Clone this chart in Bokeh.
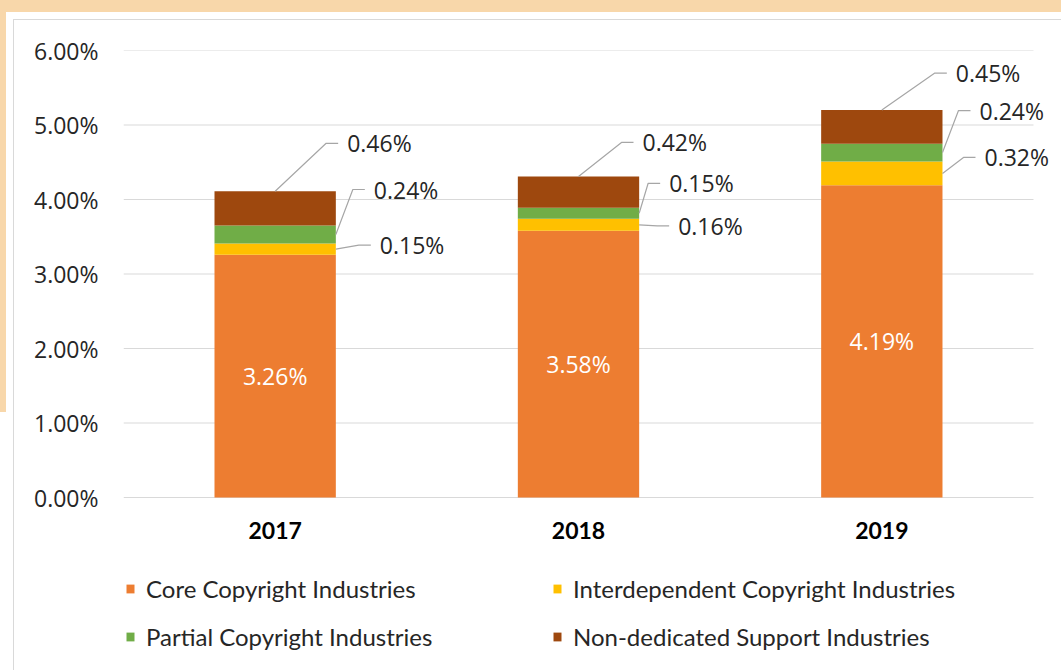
from bokeh.plotting import figure
from bokeh.models import (ColumnDataSource, Range1d, FixedTicker, PrintfTickFormatter,
                          Legend, LegendItem)
from bokeh.core.properties import value
from bokeh.embed import file_html
from bokeh.resources import INLINE

# ---------------- data ----------------
years = ["2017", "2018", "2019"]
core = [3.26, 3.58, 4.19]
interdependent = [0.15, 0.16, 0.32]
partial = [0.24, 0.15, 0.24]
nondedicated = [0.46, 0.42, 0.45]
series_names = ["Core Copyright Industries", "Interdependent Copyright Industries",
                "Partial Copyright Industries", "Non-dedicated Support Industries"]
y_ticks = [0, 1, 2, 3, 4, 5, 6]

# ---------------- style ----------------
colors = ["#ED7D31", "#FFC000", "#70AD47", "#9E480E"]
BAR_W = 0.4
LABEL_FONT = "Open Sans"
CAL_FONT = "Lato"
W, H = 1058, 668
ML, MT = 123, 50
SX = 303.33      # px per category
SY = 74.5        # px per 1 %
x_max = (W - ML) / SX
y_min = y_ticks[-1] - (H - MT) / SY

# label offsets (px) from each segment's anchor: (dx, dy up)
nd_off = [(72, 48), (64, 34), (74, 37)]
pa_off = [(38, 45), (30, 30), (37, 42)]
in_off = [(44, 4), (39, -1), (42, 16)]

xs = [i + 0.5 for i in range(len(years))]
src = ColumnDataSource(dict(x=xs, core=core, inter=interdependent,
                            partial=partial, nd=nondedicated))

p = figure(width=W, height=H, output_backend="svg", toolbar_location=None,
           x_range=Range1d(0, x_max), y_range=Range1d(y_min, y_ticks[-1]),
           min_border_left=ML, min_border_right=0, min_border_top=MT,
           min_border_bottom=0)
p.border_fill_color = None
p.background_fill_color = None
p.outline_line_color = None
p.xaxis.visible = False
p.xgrid.grid_line_color = None
p.ygrid.grid_line_color = None

# gridlines across the three categories
p.segment(x0=[0] * len(y_ticks), x1=[len(years)] * len(y_ticks), y0=y_ticks,
          y1=y_ticks, line_color="#D9D9D9", line_width=1)

renderers = p.vbar_stack(["core", "inter", "partial", "nd"], x="x", width=BAR_W,
                         color=colors, line_color=None, source=src)

# y axis
p.yaxis.ticker = FixedTicker(ticks=y_ticks)
p.yaxis.formatter = PrintfTickFormatter(format="%.2f%%")
p.yaxis.axis_line_color = None
p.yaxis.major_tick_line_color = None
p.yaxis.minor_tick_line_color = None
p.yaxis.major_tick_out = 0
p.yaxis.major_label_standoff = 25
p.yaxis.major_label_text_font = LABEL_FONT
p.yaxis.major_label_text_font_size = "23px"
p.yaxis.major_label_text_color = "#262626"

# category labels
p.text(x=xs, y=[0] * len(xs), text=years, y_offset=33, text_align="center",
       text_baseline="alphabetic", text_font=value(CAL_FONT),
       text_font_style="bold", text_font_size="23px", text_color="#000000")

# core labels (inside bars)
core_mid = [c / 2 for c in core]
p.text(x=xs, y=core_mid, text=[f"{c:.2f}%" for c in core], text_color="white",
       text_align="center", text_baseline="middle", text_font=value(LABEL_FONT),
       text_font_size="23px")

# outside labels with leader lines
lx, ly, lt, lox, loy = [], [], [], [], []
line_xs, line_ys = [], []
for i, x in enumerate(xs):
    c, it, pa, nd = core[i], interdependent[i], partial[i], nondedicated[i]
    right = x + BAR_W / 2
    anchors = [
        (x, c + it + pa + nd, nd, nd_off[i]),
        (right, c + it + pa / 2, pa, pa_off[i]),
        (right, c + it / 2, it, in_off[i]),
    ]
    for ax, ay, v, (dx, dy) in anchors:
        ex = ax + (dx - 21) / SX
        ex2 = ax + (dx - 9) / SX
        ey = ay + dy / SY
        line_xs.append([ax, ex, ex2])
        line_ys.append([ay, ey, ey])
        lx.append(ax)
        ly.append(ay)
        lt.append(f"{v:.2f}%")
        lox.append(dx)
        loy.append(-dy)

p.multi_line(xs=line_xs, ys=line_ys, line_color="#A6A6A6", line_width=1.2)
p.text(x=lx, y=ly, text=lt, x_offset=lox, y_offset=loy, text_align="left",
       text_baseline="middle", text_font=value(LABEL_FONT), text_font_size="23px",
       text_color="#262626")

# legend: 2x2 grid
leg_pos = [(2, 65), (429, 65), (2, 17), (429, 17)]
for k, pos in enumerate(leg_pos):
    lg = Legend(items=[LegendItem(label=series_names[k], renderers=[renderers[k]])],
                location=pos, orientation="horizontal", padding=0, margin=0,
                glyph_width=10, glyph_height=11, label_standoff=11,
                label_text_font=CAL_FONT, label_text_font_size="24px",
                label_text_color="#262626", border_line_color=None,
                background_fill_alpha=0)
    p.add_layout(lg, "center")

html = file_html(p, INLINE)
css = ("<style>html{background:"
       "linear-gradient(#F8D7AA,#F8D7AA) 0 0/100% 12px no-repeat,"
       "linear-gradient(#F8D7AA,#F8D7AA) 0 0/6px 412px no-repeat,"
       "linear-gradient(#D9D9D9,#D9D9D9) 13px 19px/1px 100% no-repeat,"
       "linear-gradient(#D9D9D9,#D9D9D9) 13px 19px/100% 1px no-repeat,"
       "#FFFFFF;} body{background:transparent;}</style></head>")
html = html.replace("</head>", css, 1)
open("out.html", "w").write(html)
